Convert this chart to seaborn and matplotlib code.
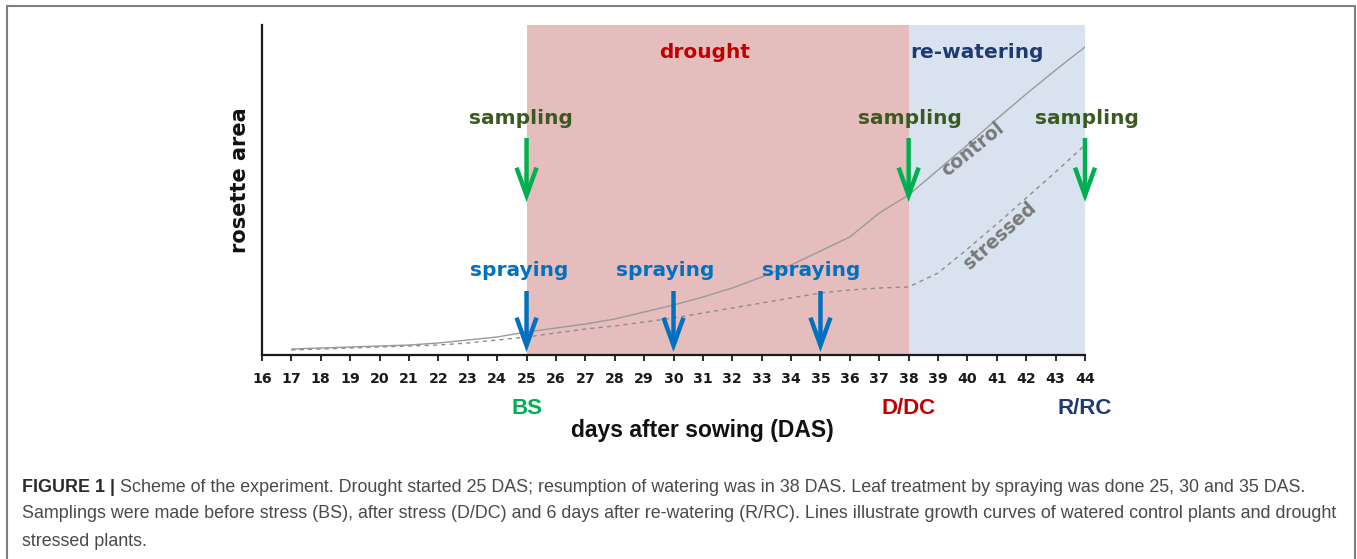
import matplotlib.pyplot as plt
import matplotlib.patches as mpatches
import pandas as pd
import seaborn as sns

# growth curves (arbitrary rosette area units)
days = list(range(17, 45))
control = [6, 7, 8, 9, 10, 12, 15, 18, 23, 27, 31, 36, 43, 50, 58, 67, 78, 90, 104, 118,
           142, 160, 185, 210, 236, 261, 285, 308]
stressed = [5, 6, 7, 8, 9, 10, 12, 15, 18, 22, 26, 29, 33, 37, 42, 47, 52, 57, 62, 65,
            67, 68, 82, 106, 131, 157, 183, 210]

tick_days = list(range(16, 45))
spray_days = [25, 30, 35]
sampling_days = [25, 38, 44]
sampling_labels = ["BS", "D/DC", "R/RC"]

caption = [
    "Scheme of the experiment. Drought started 25 DAS; resumption of watering was in 38 DAS. "
    "Leaf treatment by spraying was done 25, 30 and 35 DAS.",
    "Samplings were made before stress (BS), after stress (D/DC) and 6 days after re-watering (R/RC). "
    "Lines illustrate growth curves of watered control plants and drought",
    "stressed plants.",
]

df = pd.DataFrame({
    "day": days * 2,
    "area": control + stressed,
    "group": ["control"] * len(days) + ["stressed"] * len(days),
})

sns.set_theme(style="white")
plt.rcParams["font.family"] = ["DejaVu Sans"]

fig = plt.figure(figsize=(13.57, 5.59), dpi=100)
ax = fig.add_axes([262 / 1357, 1 - 355 / 559, 823 / 1357, 330 / 559])

RED = "#c00000"
NAVY = "#1f3a73"
GREEN = "#00b050"
OLIVE = "#3b5a1f"
BLUE = "#0070c0"

ax.axvspan(25, 38, color="#e6bdbd", lw=0, zorder=0)
ax.axvspan(38, 44, color="#d9e3f0", lw=0, zorder=0)

sns.lineplot(data=df, x="day", y="area", hue="group", style="group",
             palette={"control": "#9a9a9a", "stressed": "#8c8c8c"},
             dashes={"control": "", "stressed": (3, 3)},
             linewidth=1.0, legend=False, ax=ax, zorder=2)

ax.set_xlim(16, 44)
ax.set_ylim(0, 330)
ax.set_xticks(tick_days)
ax.set_xticklabels([str(d) for d in tick_days], fontsize=10.2, fontweight="bold", color="#1a1a1a")
ax.set_yticks([])
ax.tick_params(axis="x", direction="out", length=4, width=1.3, color="#1a1a1a", pad=8, bottom=True)
for s in ["top", "right"]:
    ax.spines[s].set_visible(False)
for s in ["left", "bottom"]:
    ax.spines[s].set_color("#1a1a1a")
    ax.spines[s].set_linewidth(1.6)

ax.set_xlabel("days after sowing (DAS)", fontsize=16.5, fontweight="bold",
              family="Liberation Sans", va="center", color="#111111")
ax.xaxis.set_label_coords((702 - 262) / 823, (355 - 431) / 330)
ax.set_ylabel("rosette area", fontsize=15, fontweight="bold", va="center", color="#111111")
ax.yaxis.set_label_coords(-0.027, 0.53)

ax.text(31.07, 302, "drought", color=RED, fontsize=14.5, fontweight="bold", ha="center", va="center")
ax.text(40.33, 302, "re-watering", color=NAVY, fontsize=14.5, fontweight="bold", ha="center", va="center")

arrow_kw = dict(arrowstyle="->, head_length=1.0, head_width=0.36", mutation_scale=20,
                lw=3.2, shrinkA=0, shrinkB=0, joinstyle="miter", capstyle="butt")
for d, xt in zip(sampling_days, [24.81, 38.05, 44.07]):
    ax.text(xt, 236, "sampling", color=OLIVE, fontsize=14.5, fontweight="bold", ha="center", va="center")
    ax.annotate("", xy=(d, 153), xytext=(d, 217), arrowprops=dict(color=GREEN, **arrow_kw),
                annotation_clip=False, zorder=4)
for d, xt in zip(spray_days, [24.74, 29.71, 34.68]):
    ax.text(xt, 84, "spraying", color=BLUE, fontsize=14.5, fontweight="bold", ha="center", va="center")
    ax.annotate("", xy=(d, 3), xytext=(d, 64), arrowprops=dict(color=BLUE, **arrow_kw),
                annotation_clip=False, zorder=4)

ax.text(40.2, 206, "control", color="#7a7a7a", fontsize=13.5, fontweight="bold",
        rotation=39, ha="center", va="center", rotation_mode="anchor")
ax.text(41.11, 119, "stressed", color="#7a7a7a", fontsize=13.5, fontweight="bold",
        rotation=42, ha="center", va="center", rotation_mode="anchor")

for d, lab, c in zip(sampling_days, sampling_labels, [GREEN, RED, NAVY]):
    ax.text(d, (355 - 408) / 330, lab, color=c, fontsize=16, fontweight="bold",
            family="Liberation Sans", ha="center", va="center", transform=ax.get_xaxis_transform())

# outer frame
fig.patches.append(mpatches.Rectangle((7 / 1357, -0.05), 1348 / 1357, 1.05 - 6 / 559,
                                      transform=fig.transFigure, fill=False,
                                      edgecolor="#7f7f7f", lw=1.5))

# caption
fig.canvas.draw()
renderer = fig.canvas.get_renderer()
head = fig.text(22 / 1357, 1 - 487 / 559, "FIGURE 1 | ", fontsize=12.85, fontweight="bold",
                family="Liberation Sans", color="#2b2b2b", va="center")
bb = head.get_window_extent(renderer)
fig.text(bb.x1 / fig.bbox.width, 1 - 487 / 559, caption[0], fontsize=12.85,
         family="Liberation Sans", color="#4a4a4a", va="center")
fig.text(22 / 1357, 1 - 514 / 559, caption[1], fontsize=12.85, family="Liberation Sans",
         color="#4a4a4a", va="center")
fig.text(22 / 1357, 1 - 541 / 559, caption[2], fontsize=12.85, family="Liberation Sans",
         color="#4a4a4a", va="center")

fig.savefig("out.png", dpi=100)
